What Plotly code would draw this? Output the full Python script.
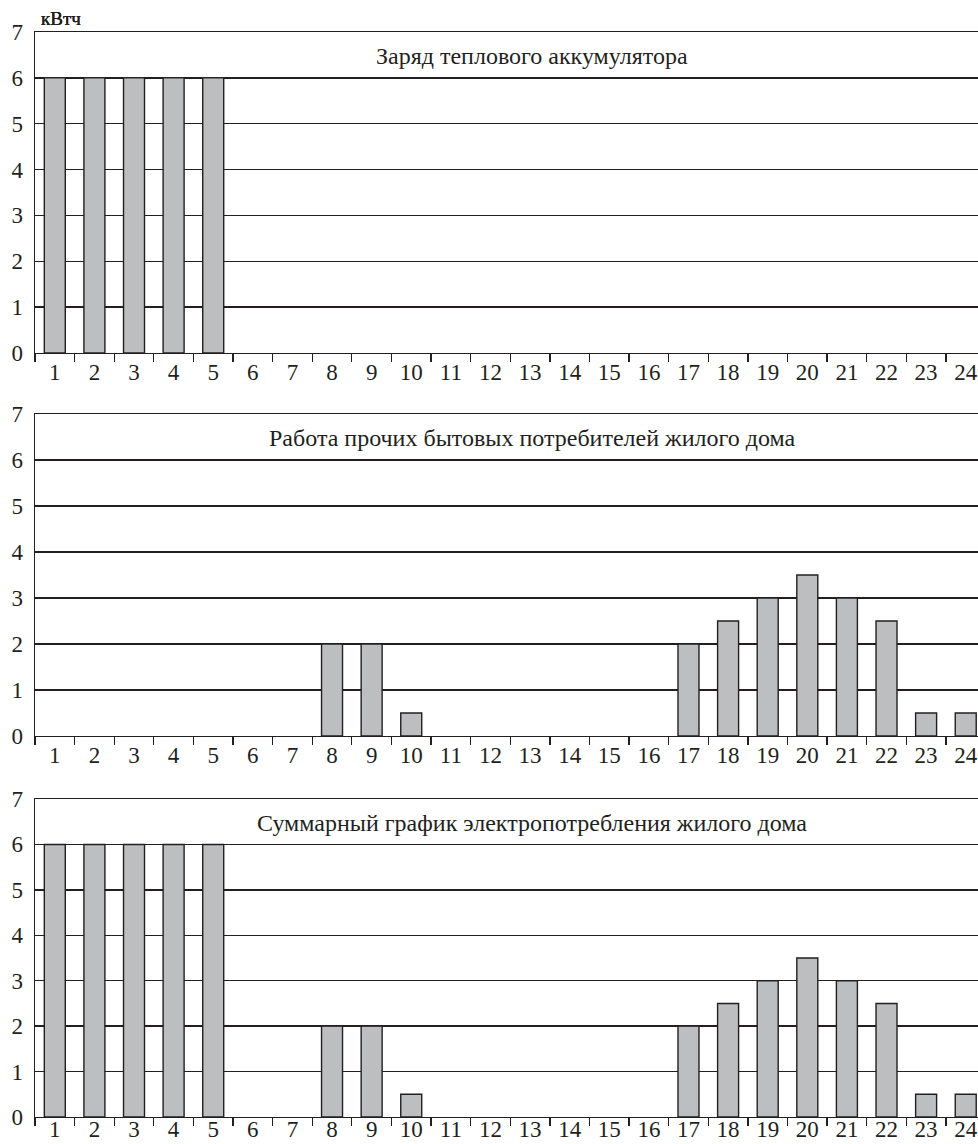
import plotly.graph_objects as go

hours = [str(h) for h in range(1, 25)]
accumulator = [6, 6, 6, 6, 6, 0, 0, 0, 0, 0, 0, 0, 0, 0, 0, 0, 0, 0, 0, 0, 0, 0, 0, 0]
other = [0, 0, 0, 0, 0, 0, 0, 2, 2, 0.5, 0, 0, 0, 0, 0, 0, 2, 2.5, 3, 3.5, 3, 2.5, 0.5, 0.5]
total = [a + b for a, b in zip(accumulator, other)]

titles = [
    "Заряд теплового аккумулятора",
    "Работа прочих бытовых потребителей жилого дома",
    "Суммарный график электропотребления жилого дома",
]
unit_label = "кВтч"
y_ticks = [0, 1, 2, 3, 4, 5, 6, 7]
series = [accumulator, other, total]

H = 1144
panels_px = [(32, 353), (414, 736), (799, 1117)]
label_shift = [-2, -2, -9]

FONT = "Liberation Serif, Times New Roman, Times, serif"
TXT = "#231f20"

fig = go.Figure()
for i, (vals, title, (ytop, ybot)) in enumerate(zip(series, titles, panels_px)):
    n = i + 1
    xa = "x" if n == 1 else f"x{n}"
    ya = "y" if n == 1 else f"y{n}"
    fig.add_trace(go.Bar(
        x=hours, y=[v if v != 0 else None for v in vals],
        xaxis=xa, yaxis=ya, width=0.53,
        marker=dict(color="#bdbec0", line=dict(color="#231f20", width=1.4)),
        showlegend=False, hoverinfo="skip",
    ))
    dom = [(H - ybot) / H, (H - ytop) / H]
    xkey = "xaxis" if n == 1 else f"xaxis{n}"
    ykey = "yaxis" if n == 1 else f"yaxis{n}"
    fig.layout[xkey] = dict(
        type="category", range=[-0.5, 23.31], anchor=ya, automargin=False,
        showgrid=False, showline=True, linecolor=TXT, linewidth=1.3,
        mirror=True,
        ticks="outside", tickson="boundaries", ticklen=8, tickcolor=TXT, tickwidth=1.3,
        ticklabelstandoff=label_shift[i],
        tickfont=dict(family=FONT, size=23, color=TXT),
        fixedrange=True,
    )
    fig.layout[ykey] = dict(
        range=[0, 7], domain=dom, anchor=xa, automargin=False,
        tickvals=y_ticks, showgrid=True, gridcolor=TXT, gridwidth=1.3,
        showline=True, linecolor=TXT, linewidth=1.3, zeroline=False,
        ticks="", ticklabelstandoff=6,
        tickfont=dict(family=FONT, size=23, color=TXT),
        fixedrange=True,
    )
    fig.add_annotation(
        text=title, xref=f"{xa} domain", yref=ya, x=0.527, y=6.47,
        showarrow=False, font=dict(family=FONT, size=24, color=TXT),
        xanchor="center", yanchor="middle",
    )
    fig.add_annotation(
        text=unit_label, xref=f"{xa} domain", yref=f"{ya} domain",
        x=0.004, y=1 + (ytop - 18) / (ybot - ytop),
        showarrow=False, font=dict(family=FONT, size=19, color=TXT),
        xanchor="left", yanchor="middle",
    )

fig.update_layout(
    width=978, height=1144,
    margin=dict(l=35, r=0, t=0, b=0, autoexpand=False),
    plot_bgcolor="white", paper_bgcolor="white",
    font=dict(family=FONT, color=TXT),
)

fig.write_html(
    "out.html",
    config={"displayModeBar": False, "staticPlot": True},
    post_script="document.body.style.margin='0';document.body.style.overflow='hidden';",
)
